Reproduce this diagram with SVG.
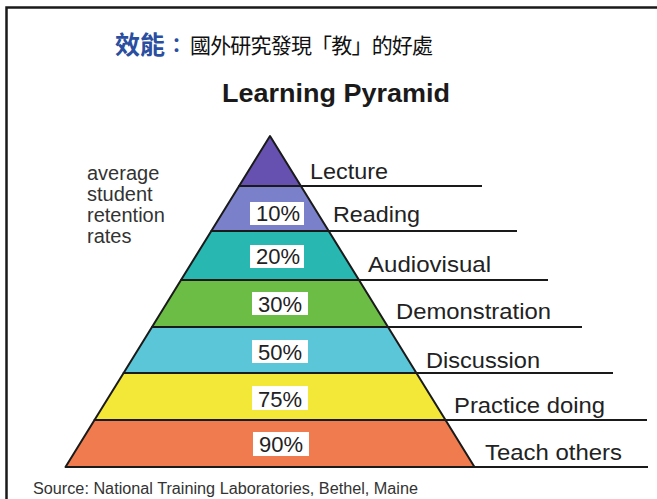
<svg xmlns="http://www.w3.org/2000/svg" width="657" height="499" viewBox="0 0 657 499">
<style>
.frame{fill:none;stroke:#1a1a1a;stroke-width:2.5}
.band{stroke:#1a1a1a;stroke-width:2;stroke-linejoin:round}
.ln{stroke:#1a1a1a;stroke-width:2.2}
.box{fill:#ffffff}
.pct{font-family:"Liberation Sans",Arial,sans-serif;font-size:22px;fill:#222;text-anchor:middle}
.lab{font-family:"Liberation Sans",Arial,sans-serif;font-size:22px;fill:#222}
.side{font-family:"Liberation Sans",Arial,sans-serif;font-size:20px;fill:#333}
</style>
<rect width="657" height="499" fill="#ffffff"/>
<path class="frame" d="M6.5,499 V7.5 H657"/>
<g id="title">
<text x="115" y="54" font-family="'Noto Sans CJK TC',sans-serif" font-size="25" font-weight="bold" fill="#2a4ea0">效能</text>
<text x="166.5" y="53" font-family="'Noto Sans CJK TC',sans-serif" font-size="20" font-weight="bold" fill="#2a4ea0">：</text>
<text x="190" y="53" font-family="'Noto Sans CJK TC',sans-serif" font-size="21" fill="#111" textLength="243">國外研究發現「教」的好處</text>
</g>
<g id="heading">
<text x="222" y="102" font-family="'Liberation Sans',Arial,sans-serif" font-size="26" font-weight="bold" fill="#1a1a1a" textLength="228" lengthAdjust="spacingAndGlyphs">Learning Pyramid</text>
</g>
<g id="side-label">
<text class="side" x="87" y="180">average</text>
<text class="side" x="87" y="201">student</text>
<text class="side" x="87" y="222">retention</text>
<text class="side" x="87" y="243">rates</text>
</g>
<g id="lecture">
<polygon class="band" fill="#6650b0" points="270,136 300.9,186 239.1,186"/>
<text class="lab" x="310" y="179" textLength="78" lengthAdjust="spacingAndGlyphs">Lecture</text>
</g>
<g id="reading">
<polygon class="band" fill="#7b80cb" points="239.1,186 300.9,186 328.7,231 211.3,231"/>
<rect class="box" x="250" y="202" width="54" height="23"/>
<text class="pct" x="278" y="221">10%</text>
<text class="lab" x="333" y="222" textLength="87" lengthAdjust="spacingAndGlyphs">Reading</text>
</g>
<g id="audiovisual">
<polygon class="band" fill="#29b7b2" points="211.3,231 328.7,231 359,280 181,280"/>
<rect class="box" x="250" y="245" width="54" height="23"/>
<text class="pct" x="278" y="264">20%</text>
<text class="lab" x="368" y="272" textLength="123" lengthAdjust="spacingAndGlyphs">Audiovisual</text>
</g>
<g id="demonstration">
<polygon class="band" fill="#6cbd45" points="181,280 359,280 388,327 152,327"/>
<rect class="box" x="252" y="292" width="56" height="23"/>
<text class="pct" x="280" y="312">30%</text>
<text class="lab" x="396" y="319" textLength="155" lengthAdjust="spacingAndGlyphs">Demonstration</text>
</g>
<g id="discussion">
<polygon class="band" fill="#5bc6d8" points="152,327 388,327 416.4,373 123.6,373"/>
<rect class="box" x="252" y="340" width="56" height="23"/>
<text class="pct" x="280" y="360">50%</text>
<text class="lab" x="426" y="368" textLength="114" lengthAdjust="spacingAndGlyphs">Discussion</text>
</g>
<g id="practice">
<polygon class="band" fill="#f3e737" points="123.6,373 416.4,373 445.5,420 94.5,420"/>
<rect class="box" x="252" y="386" width="56" height="24"/>
<text class="pct" x="280" y="407">75%</text>
<text class="lab" x="454" y="413" textLength="151" lengthAdjust="spacingAndGlyphs">Practice doing</text>
</g>
<g id="teach">
<polygon class="band" fill="#f07b4f" points="94.5,420 445.5,420 474.5,467 65.5,467"/>
<rect class="box" x="253" y="432" width="56" height="24"/>
<text class="pct" x="281" y="452">90%</text>
<text class="lab" x="485" y="460" textLength="137" lengthAdjust="spacingAndGlyphs">Teach others</text>
</g>
<g id="connectors">
<line class="ln" x1="239" y1="186" x2="482" y2="186"/>
<line class="ln" x1="211" y1="231" x2="517" y2="231"/>
<line class="ln" x1="181" y1="280" x2="548" y2="280"/>
<line class="ln" x1="152" y1="327" x2="582" y2="327"/>
<line class="ln" x1="124" y1="373" x2="613" y2="373"/>
<line class="ln" x1="95" y1="420" x2="647" y2="420"/>
<line class="ln" x1="65" y1="467" x2="648" y2="467"/>
</g>
<g id="source">
<text x="33" y="494" font-family="'Liberation Sans',Arial,sans-serif" font-size="16" fill="#333" textLength="385" lengthAdjust="spacingAndGlyphs">Source: National Training Laboratories, Bethel, Maine</text>
</g>
</svg>
